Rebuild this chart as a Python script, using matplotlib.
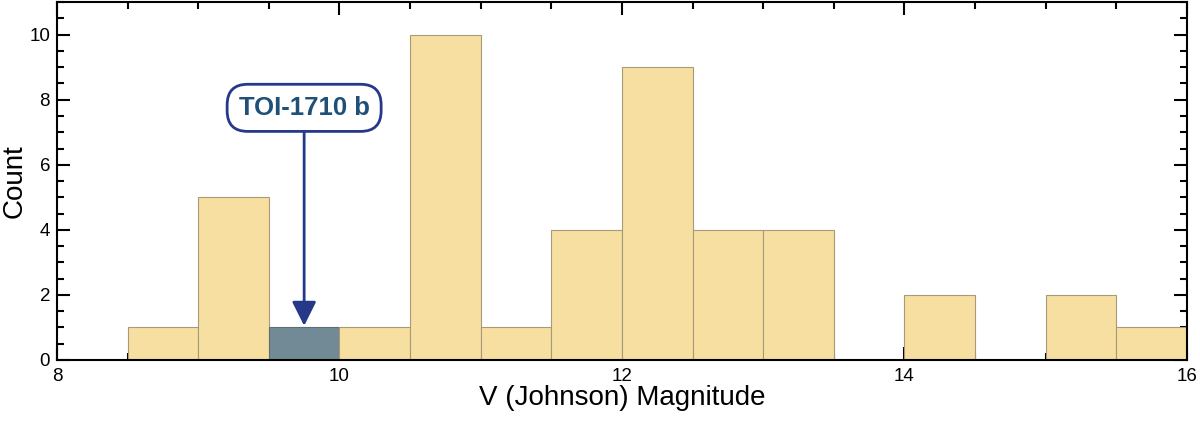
import matplotlib
matplotlib.use("Agg")
import matplotlib.pyplot as plt
from matplotlib.ticker import MultipleLocator

plt.rcParams['font.family'] = ['Liberation Sans', 'DejaVu Sans']

bin_edges = [8.5, 9.0, 9.5, 10.0, 10.5, 11.0, 11.5, 12.0, 12.5, 13.0, 13.5, 14.0, 14.5, 15.0, 15.5, 16.0]
counts = [1, 5, 1, 1, 10, 1, 4, 9, 4, 4, 0, 2, 0, 2, 1]
highlight_bin = 2  # TOI-1710 b bin (9.5-10.0)
target_name = "TOI-1710 b"
target_mag = 9.75

fig = plt.figure(figsize=(12, 4.22), dpi=100)
ax = fig.add_axes([0.0475, 0.147, 0.9415, 0.848])

widths = [bin_edges[i + 1] - bin_edges[i] for i in range(len(counts))]
colors = ['#728A96' if i == highlight_bin else '#F7DFA1' for i in range(len(counts))]
edges = ['#5E6E76' if i == highlight_bin else '#A89A78' for i in range(len(counts))]
for i, c in enumerate(counts):
    if c > 0:
        ax.bar(bin_edges[i], c, width=widths[i], align='edge', color=colors[i],
               edgecolor=edges[i], linewidth=0.8, zorder=3)

ax.set_xlim(8, 16)
ax.set_ylim(0, 11)
ax.xaxis.set_major_locator(MultipleLocator(2))
ax.xaxis.set_minor_locator(MultipleLocator(0.5))
ax.yaxis.set_major_locator(MultipleLocator(2))
ax.yaxis.set_minor_locator(MultipleLocator(0.5))
ax.tick_params(which='both', direction='in', top=True, right=True, width=1.5, labelsize=13.5)
ax.tick_params(which='major', length=9.5)
ax.tick_params(which='minor', length=5)
ax.tick_params(axis='x', pad=6)
ax.tick_params(axis='y', pad=5)
for s in ax.spines.values():
    s.set_linewidth(1.5)
    s.set_zorder(4)

ax.set_xlabel("V (Johnson) Magnitude", fontsize=20, labelpad=0)
ax.set_ylabel("Count", fontsize=20, labelpad=1)

ax.annotate(target_name, xy=(target_mag, 1.05), xytext=(target_mag, 7.75),
            ha='center', va='center', fontsize=18.5, fontweight='bold', color='#1F5078',
            bbox=dict(boxstyle='round,pad=0.45,rounding_size=0.8', fc='white', ec='#25388A', lw=2),
            arrowprops=dict(arrowstyle='-|>,head_length=0.8,head_width=0.4', color='#25388A',
                            lw=2, shrinkA=0, shrinkB=0), zorder=5)

fig.savefig("out.png", dpi=100)
